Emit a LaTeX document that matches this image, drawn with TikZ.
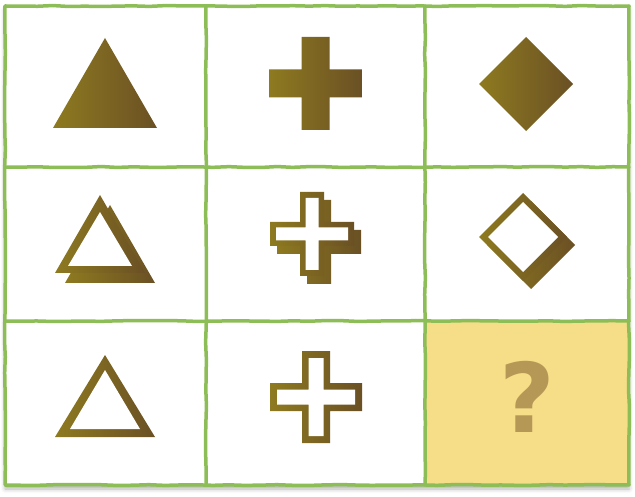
\documentclass[tikz,border=0pt]{standalone}
\usepackage{fontspec}
\usetikzlibrary{decorations.pathmorphing,shadows.blur}
\definecolor{gridgreen}{RGB}{141,189,86}
\definecolor{shapeolive}{RGB}{142,122,32}
\definecolor{shapebrown}{RGB}{106,80,36}
\definecolor{qcell}{RGB}{246,221,136}
\definecolor{qbrown}{RGB}{181,152,86}
\newfontfamily\qfont{DejaVu Sans}
% cross: centre x, centre y, half length, half width
\newcommand\plusshape[4]{({#1-#4},{#2-#3}) -- ({#1+#4},{#2-#3}) -- ({#1+#4},{#2-#4}) -- ({#1+#3},{#2-#4})
	-- ({#1+#3},{#2+#4}) -- ({#1+#4},{#2+#4}) -- ({#1+#4},{#2+#3}) -- ({#1-#4},{#2+#3})
	-- ({#1-#4},{#2+#4}) -- ({#1-#3},{#2+#4}) -- ({#1-#3},{#2-#4}) -- ({#1-#4},{#2-#4}) -- cycle}
% diamond: centre x, centre y, half diagonal
\newcommand\rhombshape[3]{(#1,{#2-#3}) -- ({#1+#3},#2) -- (#1,{#2+#3}) -- ({#1-#3},#2) -- cycle}
\begin{document}
\begin{tikzpicture}[x=1pt,y=-1pt,line join=round,line cap=round,
	gridline/.style={gridgreen,line width=3.5pt,decorate,decoration={random steps,segment length=16pt,amplitude=0.5pt}},
	solidfill/.style={left color=shapeolive,right color=shapebrown},
	hole/.style={fill=white}]
	\def \xa{5}
	\def \xb{206}
	\def \xc{425}
	\def \xd{629}
	\def \ya{6}
	\def \yb{167}
	\def \yc{321}
	\def \yd{485}
	\useasboundingbox (0,0) rectangle (635,497);
	% board
	\fill[white,blur shadow={shadow xshift=0pt,shadow yshift=-4pt,shadow blur radius=4pt,shadow opacity=30}] (\xa,\ya) rectangle (\xd,\yd);
	\fill[qcell] (\xc,\yc) rectangle (\xd,\yd);
	% row 1
	\shade[solidfill] (53,128) -- (157,128) -- (105,38) -- cycle;
	\shade[solidfill] \plusshape{315.5}{83.5}{46.5}{14};
	\shade[solidfill] \rhombshape{526}{84}{47};
	% row 2, with shadow
	\shade[solidfill] (65,283) -- (155,283) -- (110,205) -- cycle;
	\shade[solidfill] (55,273) -- (145,273) -- (100,195) -- cycle;
	\fill[hole] (68,266) -- (132,266) -- (100,212) -- cycle;
	\shade[solidfill] \plusshape{319}{242}{42}{12};
	\shade[solidfill] \plusshape{312}{234}{42}{12};
	\fill[hole] \plusshape{312}{234}{36}{6.5};
	\shade[solidfill] \rhombshape{531}{245}{44};
	\shade[solidfill] \rhombshape{523}{237}{44};
	\fill[hole] \rhombshape{523}{237}{35};
	% row 3
	\shade[solidfill] (55,437) -- (155,437) -- (105,355) -- cycle;
	\fill[hole] (70,429) -- (140,429) -- (105,370) -- cycle;
	\shade[solidfill] \plusshape{316}{397}{46}{14};
	\fill[hole] \plusshape{316}{397}{39}{7.5};
	\node[qbrown,font=\qfont\bfseries\fontsize{96}{96}\selectfont,inner sep=0pt] (qmark) at (527,397) {?};
	% grid lines
	\draw[gridline] (\xa,\ya) -- (\xd,\ya) -- (\xd,\yd) -- (\xa,\yd) -- cycle;
	\draw[gridline] (\xb,\ya) -- (\xb,\yd);
	\draw[gridline] (\xc,\ya) -- (\xc,\yd);
	\draw[gridline] (\xa,\yb) -- (\xd,\yb);
	\draw[gridline] (\xa,\yc) -- (\xd,\yc);
\end{tikzpicture}
\end{document}
